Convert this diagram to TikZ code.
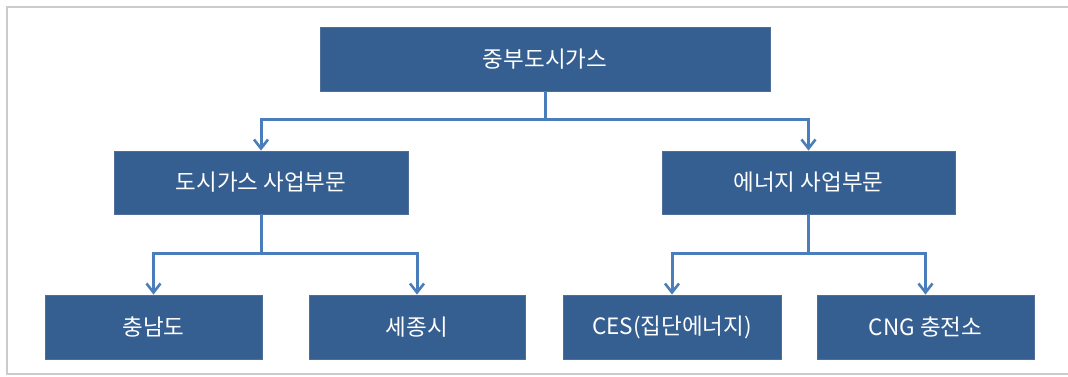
\documentclass[tikz,border=0pt]{standalone}
\usepackage{fontspec}
\setmainfont{Noto Sans CJK KR}
\usetikzlibrary{arrows.meta}
\definecolor{boxblue}{HTML}{365F91}
\definecolor{boxedge}{HTML}{4F6F9A}
\definecolor{linkblue}{HTML}{4A7EBB}
\definecolor{framegray}{HTML}{CBCBCB}
\tikzset{
  orgbox/.style={rectangle, fill=boxblue, draw=boxedge, line width=0.8pt, text=white,
    inner sep=0pt, font=\fontsize{22.5}{26}\selectfont},
  link/.style={draw=linkblue, line width=3pt,
    -{Straight Barb[length=9pt,width=14pt,line width=2.6pt]}},
  framestyle/.style={draw=framegray, line width=2.2pt}
}
\begin{document}
\begin{tikzpicture}[x=1pt,y=-1pt]
\useasboundingbox (0,0) rectangle (1068,376);
\fill[white] (0,0) rectangle (1068,376);
\draw[framestyle] (1068,7) -- (7,7) -- (7,374) -- (1068,374);

\node[orgbox, minimum width=450pt, minimum height=64pt] (top) at (545,59) {중부도시가스};
\node[orgbox, minimum width=294pt, minimum height=63pt] (gas) at (261,182.5) {도시가스 사업부문};
\node[orgbox, minimum width=293pt, minimum height=63pt] (energy) at (808.5,182.5) {에너지 사업부문};
\node[orgbox, minimum width=217pt, minimum height=64pt] (cn) at (153.5,327) {충남도};
\node[orgbox, minimum width=216pt, minimum height=64pt] (sj) at (417,327) {세종시};
\node[orgbox, minimum width=218pt, minimum height=64pt] (ces) at (672,327) {CES(집단에너지)};
\node[orgbox, minimum width=217pt, minimum height=64pt] (cng) at (925.5,327) {CNG 충전소};

\coordinate (j1) at (545,119);
\coordinate (j2) at (261,253);
\coordinate (j3) at (808.5,253);

\draw[link] (top.south) -- (j1) -| (gas.north);
\draw[link] (j1) -| (energy.north);
\draw[link] (gas.south) -- (j2) -| (cn.north);
\draw[link] (j2) -| (sj.north);
\draw[link] (energy.south) -- (j3) -| (ces.north);
\draw[link] (j3) -| (cng.north);
\end{tikzpicture}
\end{document}
